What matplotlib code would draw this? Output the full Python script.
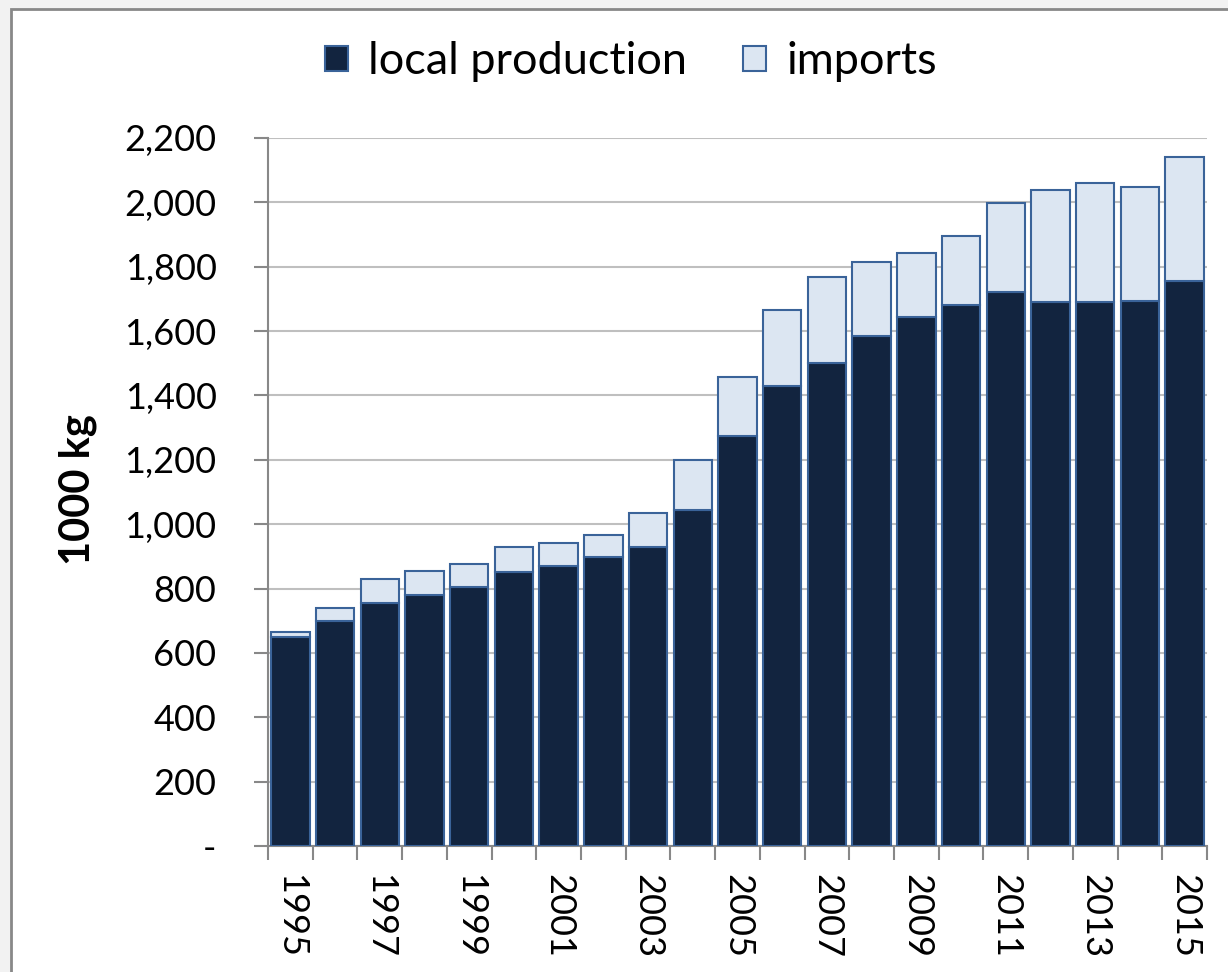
import matplotlib.pyplot as plt
from matplotlib.patches import Rectangle, Patch
from matplotlib.ticker import FuncFormatter, MultipleLocator
import numpy as np

plt.rcParams['font.family'] = ['Lato', 'DejaVu Sans']

years = list(range(1995, 2016))
local_production = [650, 699, 755, 780, 805, 851, 870, 898, 929, 1044, 1274,
                    1429, 1501, 1585, 1644, 1681, 1722, 1690, 1690, 1694, 1756]
totals = [665, 740, 830, 855, 876, 929, 942, 966, 1035, 1200, 1457,
          1666, 1768, 1815, 1843, 1896, 1998, 2039, 2060, 2048, 2141]
imports = [t - l for t, l in zip(totals, local_production)]

dark = '#12243F'
light = '#DCE6F2'
edge = '#3A6399'

fig = plt.figure(figsize=(12.28, 9.72), dpi=100, facecolor='#F2F2F2')
fig.patches.append(Rectangle((11 / 1228, -0.1), 1.2, 1.1 - 9 / 972,
                             transform=fig.transFigure, facecolor='white',
                             edgecolor='#888888', linewidth=2, zorder=-1))

ax = fig.add_axes([268 / 1228, 1 - 846 / 972, (1207 - 268) / 1228, (846 - 138) / 972])
ax.set_facecolor('white')

x = np.arange(len(years))
ax.bar(x, local_production, width=0.86, color=dark, edgecolor=edge, linewidth=1.5,
       zorder=3, label='local production')
ax.bar(x, imports, bottom=local_production, width=0.86, color=light, edgecolor=edge,
       linewidth=1.5, zorder=3, label='imports')

ax.set_xlim(-0.5, len(years) - 0.5)
ax.set_ylim(0, 2200)
ax.yaxis.set_major_locator(MultipleLocator(200))
ax.yaxis.set_major_formatter(FuncFormatter(lambda v, p: '-' if v == 0 else f'{int(v):,}'))
ax.grid(axis='y', color='#BFBFBF', linewidth=1.5, zorder=0)

ax.set_xticks(x[::2])
ax.set_xticklabels([str(y) for y in years[::2]], rotation=270, va='top', ha='center')
ax.set_xticks(np.arange(-0.5, len(years)), minor=True)
ax.tick_params(axis='x', which='major', length=0, pad=20, labelsize=26)
ax.tick_params(axis='x', which='minor', length=10, width=1.5, color='#888888')
ax.tick_params(axis='y', length=10, width=1.5, color='#888888', labelsize=26, pad=27)

for s in ['top', 'right']:
    ax.spines[s].set_visible(False)
for s in ['left', 'bottom']:
    ax.spines[s].set_color('#888888')
    ax.spines[s].set_linewidth(1.5)

ax.set_ylabel('1000 kg', fontsize=30, fontweight='bold')
ax.yaxis.set_label_coords((97 - 268) / (1207 - 268), (846 - 490) / (846 - 138))

handles = [Patch(facecolor=dark, edgecolor=edge, linewidth=1.5),
           Patch(facecolor=light, edgecolor=edge, linewidth=1.5)]
fig.legend(handles, ['local production', 'imports'], loc='center',
           bbox_to_anchor=(631 / 1228, 1 - 62 / 972), ncol=2, frameon=False,
           fontsize=32.5, handlelength=0.5, handleheight=0.5, handletextpad=0.45,
           columnspacing=1.25)

fig.savefig('out.png', dpi=100, facecolor=fig.get_facecolor())
